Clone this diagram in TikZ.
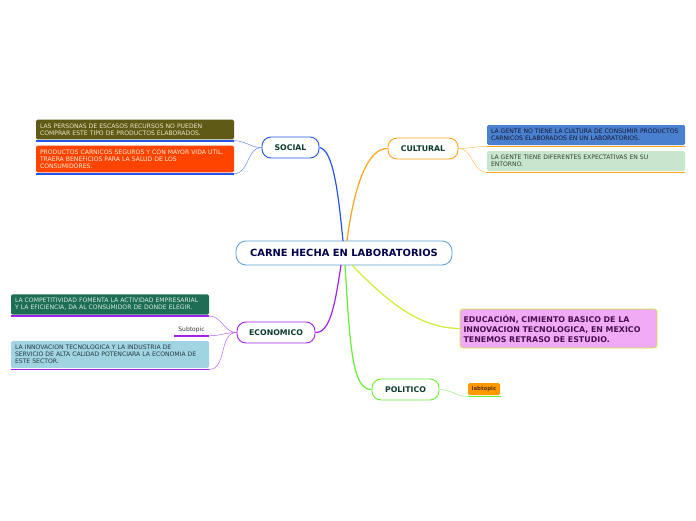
\documentclass[tikz,border=0pt]{standalone}
\usepackage{fontspec}
\setmainfont{DejaVu Sans}
\usetikzlibrary{positioning,calc}
\definecolor{csoc}{HTML}{2255EE}
\definecolor{ccul}{HTML}{FFA31A}
\definecolor{ceco}{HTML}{A020F0}
\definecolor{cpol}{HTML}{66EE33}
\definecolor{cedu}{HTML}{CCEE33}
\definecolor{croot}{HTML}{5A9FD4}
\definecolor{ctxt}{HTML}{0B3B2E}
\tikzset{
  root/.style={rectangle, rounded corners=10pt, draw=croot, fill=white, thick,
               minimum width=216pt, minimum height=24pt, text=blue!30!black,
               font=\fontsize{9.9}{11}\selectfont\bfseries},
  topic/.style={rectangle, rounded corners=9pt, fill=white, line width=0.9pt,
                minimum height=21pt, text=ctxt, font=\fontsize{7.8}{9}\selectfont\bfseries},
  leaf/.style={rectangle, rounded corners=1.5pt, minimum width=198pt, text width=190pt,
               align=left, inner sep=4pt, font=\fontsize{6.1}{7}\selectfont},
  branch/.style={line width=1.2pt},
  uline/.style={line width=1.7pt},
  twig/.style={line width=0.5pt}
}
\begin{document}
\begin{tikzpicture}[x=1pt,y=-1pt]
\useasboundingbox (0,0) rectangle (696,520);
% central idea and main topics
\node[root] (carne) at (344,253) {CARNE HECHA EN LABORATORIOS};
\node[topic, draw=csoc, minimum width=57pt] (social) at (290.5,147.5) {SOCIAL};
\node[topic, draw=ccul, minimum width=70pt] (cultural) at (423,148.5) {CULTURAL};
\node[topic, draw=ceco, minimum width=78pt] (economico) at (276,332.5) {ECONOMICO};
\node[topic, draw=cpol, minimum width=67pt] (politico) at (405.5,389.5) {POLITICO};
\node[rectangle, rounded corners=3pt, draw=cedu, fill={rgb,255:red,240;green,170;blue,246}, thick,
      minimum width=197pt, minimum height=39pt, text width=190pt, align=left, inner sep=3pt,
      text={rgb,255:red,74;green,15;blue,79}, font=\fontsize{7.9}{10}\selectfont\bfseries]
      (educacion) at (558.5,328.5) {EDUCACIÓN, CIMIENTO BASICO DE LA\\INNOVACION TECNOLOGICA, EN MEXICO\\TENEMOS RETRASO DE ESTUDIO.};
\coordinate (soc0) at (343,241);
\coordinate (cul0) at (347,241);
\coordinate (eco0) at (341,265);
\coordinate (pol0) at (345,265);
\coordinate (edu0) at (352,265);
\draw[branch, csoc] (soc0) .. controls (338,190) and (333,150) .. (social.east);
\draw[branch, ccul] (cul0) .. controls (354,185) and (368,148) .. (cultural.west);
\draw[branch, ceco] (eco0) .. controls (335,305) and (330,333) .. (economico.east);
\draw[branch, cpol] (pol0) .. controls (350,345) and (352,390) .. (politico.west);
\draw[branch, cedu] (edu0) .. controls (395,310) and (425,328) .. (educacion.west);
% social
\node[leaf, fill={rgb,255:red,95;green,90;blue,22}, minimum height=19pt, text={rgb,255:red,236;green,232;blue,200}]
  (s1) at (135,129.5) {LAS PERSONAS DE ESCASOS RECURSOS NO PUEDEN\\COMPRAR ESTE TIPO DE PRODUCTOS ELABORADOS.};
\node[leaf, fill={rgb,255:red,255;green,68;blue,0}, minimum height=26pt, text={rgb,255:red,255;green,236;blue,224}]
  (s2) at (135,159) {PRODUCTOS CARNICOS SEGUROS Y CON MAYOR VIDA UTIL,\\TRAERA BENEFICIOS PARA LA SALUD DE LOS\\CONSUMIDORES.};
\foreach \n in {s1,s2} \draw[uline, csoc] ($(\n.south west)+(0,1.2)$) -- ($(\n.south east)+(0,1.2)$);
\draw[twig, csoc!70] (social.west) to[out=180,in=0] ($(s1.south east)+(0,1.2)$);
\draw[twig, csoc!70] (social.west) to[out=180,in=0] ($(s2.south east)+(0,1.2)$);
% cultural
\node[leaf, fill={rgb,255:red,74;green,128;blue,208}, minimum height=20pt, text={rgb,255:red,20;green,24;blue,48}]
  (c1) at (586,135) {LA GENTE NO TIENE LA CULTURA DE CONSUMIR PRODUCTOS\\CARNICOS ELABORADOS EN UN LABORATORIOS.};
\node[leaf, fill={rgb,255:red,200;green,230;blue,204}, minimum height=20pt, text={rgb,255:red,50;green,60;blue,50}]
  (c2) at (586,161) {LA GENTE TIENE DIFERENTES EXPECTATIVAS EN SU\\ENTORNO.};
\foreach \n in {c1,c2} \draw[uline, ccul] ($(\n.south west)+(0,1.2)$) -- ($(\n.south east)+(0,1.2)$);
\draw[twig, ccul!70] (cultural.east) to[out=0,in=180] ($(c1.south west)+(0,1.2)$);
\draw[twig, ccul!70] (cultural.east) to[out=0,in=180] ($(c2.south west)+(0,1.2)$);
% economico
\node[leaf, fill={rgb,255:red,29;green,110;blue,85}, minimum height=19pt, text={rgb,255:red,220;green,234;blue,226}]
  (e1) at (110,304.5) {LA COMPETITIVIDAD FOMENTA LA ACTIVIDAD EMPRESARIAL\\Y LA EFICIENCIA, DA AL CONSUMIDOR DE DONDE ELEGIR.};
\node[font=\fontsize{6}{7}\selectfont, text=black!80, inner sep=2pt, minimum width=35pt] (e2) at (191.5,329.5) {Subtopic};
\node[leaf, fill={rgb,255:red,159;green,212;blue,224}, minimum height=27pt, text={rgb,255:red,40;green,56;blue,70}]
  (e3) at (110,354.5) {LA INNOVACION TECNOLOGICA Y LA INDUSTRIA DE\\SERVICIO DE ALTA CALIDAD POTENCIARA LA ECONOMIA DE\\ESTE SECTOR.};
\foreach \n in {e1,e2,e3} \draw[uline, ceco] ($(\n.south west)+(0,1.2)$) -- ($(\n.south east)+(0,1.2)$);
\foreach \n in {e1,e2,e3} \draw[twig, ceco!70] (economico.west) to[out=180,in=0] ($(\n.south east)+(0,1.2)$);
% politico
\node[rectangle, rounded corners=1.5pt, fill={rgb,255:red,255;green,153;blue,0}, minimum width=32pt, minimum height=12pt,
      inner sep=1pt, text={rgb,255:red,90;green,50;blue,0}, font=\fontsize{5.4}{6}\selectfont\bfseries] (p1) at (484,389) {labtopic};
\draw[uline, cpol] ($(p1.south west)+(0,1.2)$) -- ($(p1.south east)+(1,1.2)$);
\draw[twig, cpol!70] (politico.east) to[out=0,in=180] ($(p1.south west)+(0,1.2)$);
\end{tikzpicture}
\end{document}
